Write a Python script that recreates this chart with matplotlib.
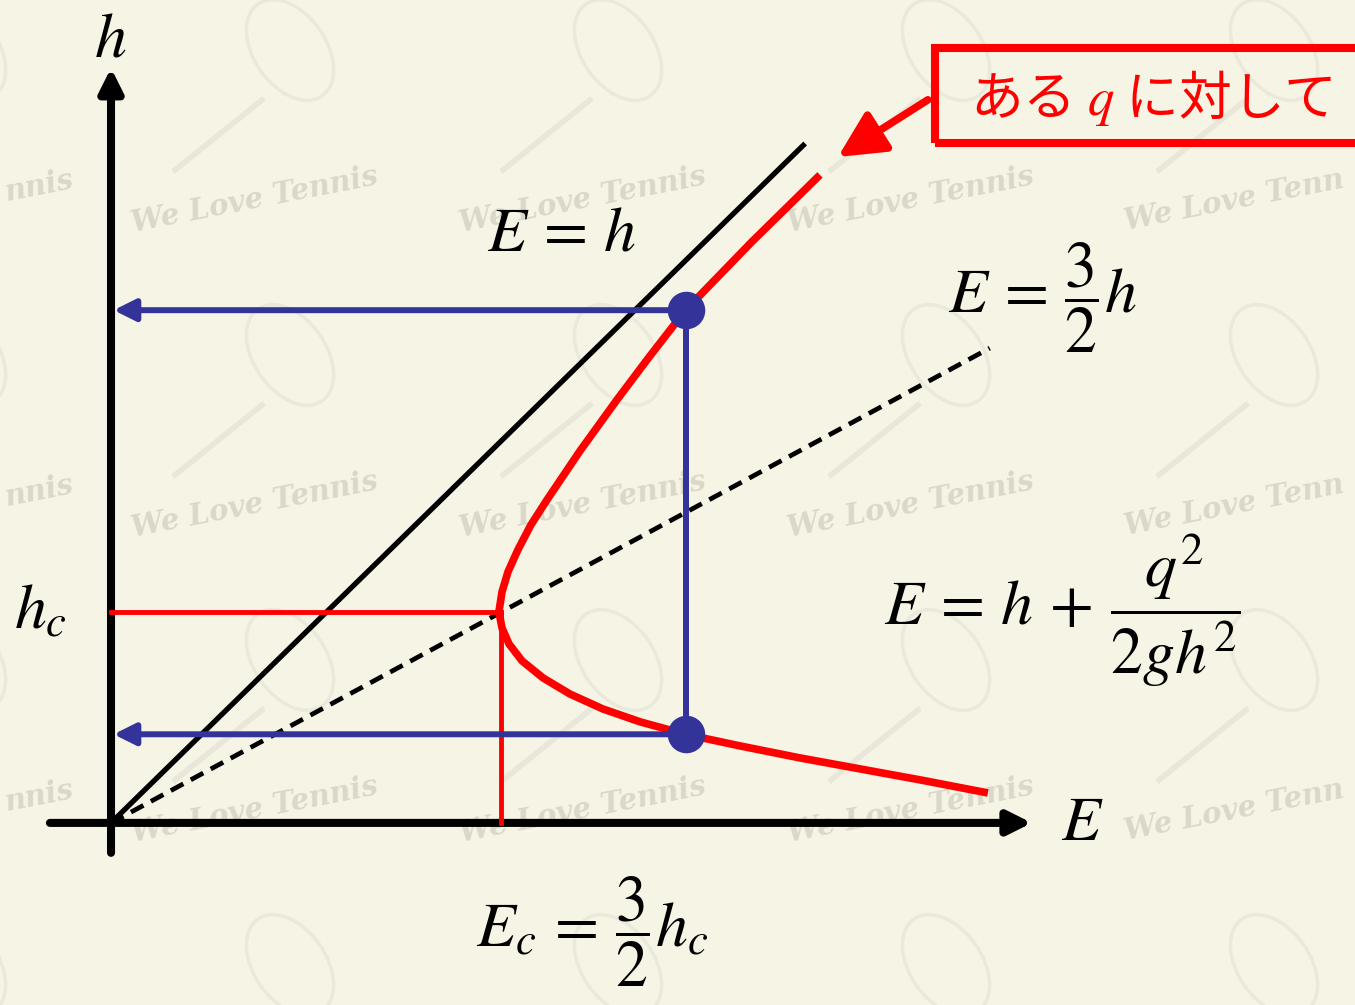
import matplotlib
matplotlib.use('Agg')
import matplotlib.pyplot as plt
from matplotlib.patches import Ellipse, Rectangle
from matplotlib.transforms import Affine2D

plt.rcParams['mathtext.fontset'] = 'stix'
plt.rcParams['font.family'] = ['Noto Sans CJK JP', 'DejaVu Sans']

# 比エネルギー曲線 E = h + q^2/(2gh^2) (h_c = 1, E_c = 1.5 で規格化)
E_curve = [2.727, 2.465, 2.21, 2.073, 1.946, 1.804, 1.677, 1.615, 1.565, 1.527,
           1.504, 1.492, 1.504, 1.531, 1.581, 1.662, 1.765, 1.892, 2.035, 2.21,
           2.419, 2.650, 2.881, 3.112, 3.373]
h_curve = [3.071, 2.754, 2.43, 2.213, 2.005, 1.763, 1.531, 1.412, 1.294, 1.190,
           1.095, 1.000, 0.924, 0.848, 0.768, 0.687, 0.611, 0.540, 0.479, 0.42,
           0.365, 0.308, 0.256, 0.204, 0.142]

# 限界水深・限界エネルギー
h_c = 1.0
E_c = 1.5

# E = h の直線と E = 3/2 h の直線
E_line = [0.0, 2.67]
h_line = [0.0, 3.22]
E_dash = [0.0, 3.38]
h_dash = [0.0, 2.25]

# 同じ E に対する二つの水深 (交代水深)
E_alt = 2.21
h_alt = [2.43, 0.42]

BG = '#f6f4e4'
BLUE = '#333399'
W, H = 1355, 1005

fig = plt.figure(figsize=(W / 100, H / 100), dpi=100)
fig.patch.set_facecolor(BG)
ax = fig.add_axes([0, 0, 1, 1])
ax.set_xlim(-0.427, 4.785)
ax.set_ylim(-0.863, 3.90)
ax.axis('off')

# 背景の透かし (ピクセル座標, 上が原点)
pix = Affine2D().scale(1, -1).translate(0, H)
wm = dict(transform=pix, rotation=11, va='center', fontsize=21,
          family='DejaVu Serif', style='italic', weight='bold', color='#dad8c9',
          zorder=-2)
for i in range(-1, 5):
    for j in range(-1, 4):
        cx, cy = 290 + 328 * i, 50 + 305 * j
        fig.add_artist(Ellipse((cx, cy), 72, 112, angle=-35, transform=pix,
                               fill=False, ec='#ebe9db', lw=2.5, zorder=-2))
        fig.add_artist(plt.Line2D([cx - 28, cx - 115], [cy + 50, cy + 120],
                                  transform=pix, color='#e9e7d9', lw=4, zorder=-2))
        tx, ty = cx - 35, cy + 150
        if not 0 < ty < H:
            continue
        if i == -1:
            # 左端・右端は見えている部分だけ
            fig.text(2, ty - 14, 'nnis', ha='left', **wm)
        elif i == 3:
            fig.text(1122, ty, 'We Love Tenn', ha='left', **wm)
        elif i < 3:
            fig.text(tx, ty, 'We Love Tennis', ha='center', **wm)

# 座標軸
ax.annotate('', xy=(0, 3.578), xytext=(0, -0.142),
            arrowprops=dict(arrowstyle='-|>,head_length=1.0,head_width=0.5',
                            mutation_scale=14, lw=5.8, color='black',
                            shrinkA=0, shrinkB=0))
ax.annotate('', xy=(3.542, 0), xytext=(-0.235, 0),
            arrowprops=dict(arrowstyle='-|>,head_length=1.0,head_width=0.5',
                            mutation_scale=14, lw=5.8, color='black',
                            shrinkA=0, shrinkB=0))

ax.plot(E_line, h_line, color='black', lw=3.8, solid_capstyle='butt', zorder=3)
ax.plot(E_dash, h_dash, color='black', lw=3.4, dashes=(3.0, 1.8), zorder=3)

# 限界水深の補助線
ax.plot([0, E_c], [h_c, h_c], color='red', lw=3.5, zorder=3)
ax.plot([E_c, E_c], [0, h_c], color='red', lw=3.5, zorder=3)

ax.plot(E_curve, h_curve, color='red', lw=5.5, solid_joinstyle='round',
        solid_capstyle='butt', zorder=4)

# 交代水深
ax.plot([E_alt, E_alt], h_alt, color=BLUE, lw=4.3, zorder=5)
for h in h_alt:
    ax.annotate('', xy=(0.01, h), xytext=(E_alt, h),
                arrowprops=dict(arrowstyle='-|>,head_length=1.0,head_width=0.5',
                                mutation_scale=13, lw=4.3, color=BLUE,
                                shrinkA=0, shrinkB=0), zorder=5)
ax.plot([E_alt] * 2, h_alt, 'o', color=BLUE, ms=26, zorder=6)

# ラベル
fs = 46
ax.text(-0.004, 3.72, '$h$', fontsize=fs, ha='center', va='center')
ax.text(-0.273, 1.01, '$h_c$', fontsize=fs, ha='center', va='center')
ax.text(3.735, 0.005, '$E$', fontsize=fs, ha='center', va='center')
ax.text(1.735, 2.80, r'$E\,=\,h$', fontsize=fs, ha='center', va='center')
ax.text(3.585, 2.49, r'$E\,=\,\dfrac{3}{2}h$', fontsize=fs, ha='center',
        va='center')
ax.text(3.66, 1.01, r'$E\,=\,h\,+\,\dfrac{q^2}{2gh^2}$', fontsize=fs,
        ha='center', va='center')
ax.text(1.85, -0.517, r'$E_c\,=\,\dfrac{3}{2}h_c$', fontsize=fs, ha='center',
        va='center')

# 注記の枠と矢印
ax.add_patch(Rectangle((3.169, 3.223), 2.0, 0.45, fill=False, ec='red', lw=5.8,
                       zorder=5))
ax.text(4.0, 3.436, 'ある $q$ に対して', fontsize=38, color='red', ha='center',
        va='center', zorder=5)
ax.annotate('', xy=(2.796, 3.156), xytext=(3.142, 3.427),
            arrowprops=dict(arrowstyle='-|>,head_length=1.0,head_width=0.5',
                            mutation_scale=28, lw=5.5, color='red',
                            shrinkA=0, shrinkB=0), zorder=5)

fig.savefig('out.png', dpi=100, facecolor=BG)
